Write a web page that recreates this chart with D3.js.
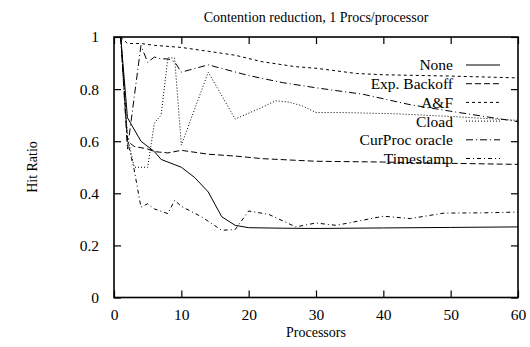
<html>

<head>
	<title>Contention reduction</title>
	<script src="https://d3js.org/d3.v7.min.js"></script>
	<style>
		body {
			margin: 0;
			background: #fff;
		}
		text {
			font-family: "Liberation Serif", "DejaVu Serif", serif;
			fill: #000;
		}
	</style>
</head>

<body>
	<div id="chart"></div>
	<script>
		// series names, in legend order
		let names = ["None", "Exp. Backoff", "A&F", "Cload", "CurProc oracle", "Timestamp"];

		let noneX = [1, 2, 4, 6, 7, 8, 10, 12, 14, 16, 18, 20, 25, 30, 40, 50, 60];
		let noneY = [1, 0.69, 0.60, 0.56, 0.53, 0.52, 0.50, 0.46, 0.405, 0.31, 0.277, 0.268, 0.266, 0.265, 0.267, 0.269, 0.271];

		let backoffX = [1, 2, 3, 4, 5, 6, 8, 10, 14, 18, 22, 30, 40, 50, 60];
		let backoffY = [1, 0.60, 0.58, 0.575, 0.57, 0.56, 0.555, 0.565, 0.55, 0.543, 0.533, 0.523, 0.52, 0.515, 0.511];

		let afX = [1, 2, 4, 6, 10, 14, 18, 22, 27, 30, 36, 40, 50, 60];
		let afY = [1, 0.975, 0.975, 0.968, 0.96, 0.945, 0.93, 0.905, 0.886, 0.88, 0.86, 0.855, 0.85, 0.843];

		let cloadX = [1, 2, 3, 5, 6, 7, 8, 9, 10, 14, 18, 22, 24, 26, 28, 30, 34, 42, 50, 60];
		let cloadY = [1, 0.62, 0.5, 0.5, 0.67, 0.70, 0.92, 0.92, 0.585, 0.865, 0.685, 0.73, 0.755, 0.75, 0.735, 0.71, 0.71, 0.705, 0.695, 0.68];

		let curprocX = [1, 2, 4, 5, 6, 7, 8, 9, 10, 14, 20, 25, 30, 37, 44, 50, 60];
		let curprocY = [1, 0.57, 0.967, 0.903, 0.923, 0.916, 0.916, 0.905, 0.865, 0.893, 0.852, 0.825, 0.805, 0.78, 0.74, 0.715, 0.675];

		let stampX = [1, 2, 3, 4, 5, 6, 8, 9, 10, 13, 16, 18, 20, 23, 27, 30, 33, 40, 44, 49, 55, 60];
		let stampY = [1, 0.6, 0.49, 0.347, 0.36, 0.34, 0.322, 0.373, 0.35, 0.31, 0.258, 0.261, 0.332, 0.319, 0.271, 0.286, 0.277, 0.312, 0.303, 0.324, 0.325, 0.328];

		let xTicks = [0, 10, 20, 30, 40, 50, 60];
		let yTicks = [0, 0.2, 0.4, 0.6, 0.8, 1];

		let dashes = ["none", "6,3", "3,3", "1,2", "7,3,1,3", "4,3,1,3"];

		let series = [
			[noneX, noneY], [backoffX, backoffY], [afX, afY],
			[cloadX, cloadY], [curprocX, curprocY], [stampX, stampY]
		].map(function (s, i) {
			return {
				name: names[i],
				dash: dashes[i],
				pts: s[0].map(function (x, j) { return [x, s[1][j]]; })
			};
		});

		let pLeft = 114, pRight = 518, pTop = 37, pBottom = 297.5;

		let svg = d3.select("#chart").append("svg")
			.attr("width", 530)
			.attr("height", 347);

		let x = d3.scaleLinear().domain([0, 60]).range([pLeft, pRight]);
		let y = d3.scaleLinear().domain([0, 1]).range([pBottom, pTop]);

		// axes with inward ticks, mirrored on top and right
		svg.append("g").attr("transform", "translate(0," + pBottom + ")")
			.call(d3.axisBottom(x).tickValues(xTicks).tickSize(-7).tickPadding(11).tickFormat(d3.format("d")))
			.call(function (g) { g.select(".domain").remove(); });
		svg.append("g").attr("transform", "translate(0," + pTop + ")")
			.call(d3.axisTop(x).tickValues(xTicks).tickSize(-7).tickFormat(""))
			.call(function (g) { g.select(".domain").remove(); });
		svg.append("g").attr("transform", "translate(" + pLeft + ",0)")
			.call(d3.axisLeft(y).tickValues(yTicks).tickSize(-7).tickPadding(15).tickFormat(function (d) { return d === 0 || d === 1 ? d : d3.format(".1f")(d); }))
			.call(function (g) { g.select(".domain").remove(); });
		svg.append("g").attr("transform", "translate(" + pRight + ",0)")
			.call(d3.axisRight(y).tickValues(yTicks).tickSize(-7).tickFormat(""))
			.call(function (g) { g.select(".domain").remove(); });

		svg.selectAll(".tick line").attr("stroke", "#000").attr("stroke-width", 1.2);
		svg.selectAll(".tick text")
			.style("font-family", "'Liberation Serif', serif")
			.style("font-size", "15.5px")
			.attr("fill", "#000");

		svg.append("rect")
			.attr("x", pLeft).attr("y", pTop)
			.attr("width", pRight - pLeft).attr("height", pBottom - pTop)
			.attr("fill", "none").attr("stroke", "#000").attr("stroke-width", 1.6);

		let line = d3.line()
			.x(function (d) { return x(d[0]); })
			.y(function (d) { return y(d[1]); });

		svg.selectAll("path.series").data(series).enter().append("path")
			.attr("class", "series")
			.attr("d", function (d) { return line(d.pts); })
			.attr("fill", "none")
			.attr("stroke", "#000")
			.attr("stroke-width", 1)
			.attr("stroke-dasharray", function (d) { return d.dash; });

		// legend
		let leg = svg.selectAll("g.leg").data(series).enter().append("g")
			.attr("class", "leg")
			.attr("transform", function (d, i) { return "translate(0," + (65 + i * 18.7) + ")"; });
		leg.append("text")
			.attr("x", 453).attr("dy", "0.35em")
			.attr("text-anchor", "end")
			.style("font-size", "15.5px")
			.text(function (d) { return d.name; });
		leg.append("line")
			.attr("x1", 466).attr("x2", 500)
			.attr("stroke", "#000").attr("stroke-width", 1)
			.attr("stroke-dasharray", function (d) { return d.dash; });

		svg.append("text")
			.attr("x", 316).attr("y", 22)
			.attr("text-anchor", "middle")
			.style("font-size", "14px")
			.text("Contention reduction, 1 Procs/processor");

		svg.append("text")
			.attr("x", 316).attr("y", 337)
			.attr("text-anchor", "middle")
			.style("font-size", "14px")
			.text("Processors");

		svg.append("text")
			.attr("transform", "translate(37,167) rotate(-90)")
			.attr("text-anchor", "middle")
			.style("font-size", "14px")
			.text("Hit Ratio");
	</script>
</body>

</html>
